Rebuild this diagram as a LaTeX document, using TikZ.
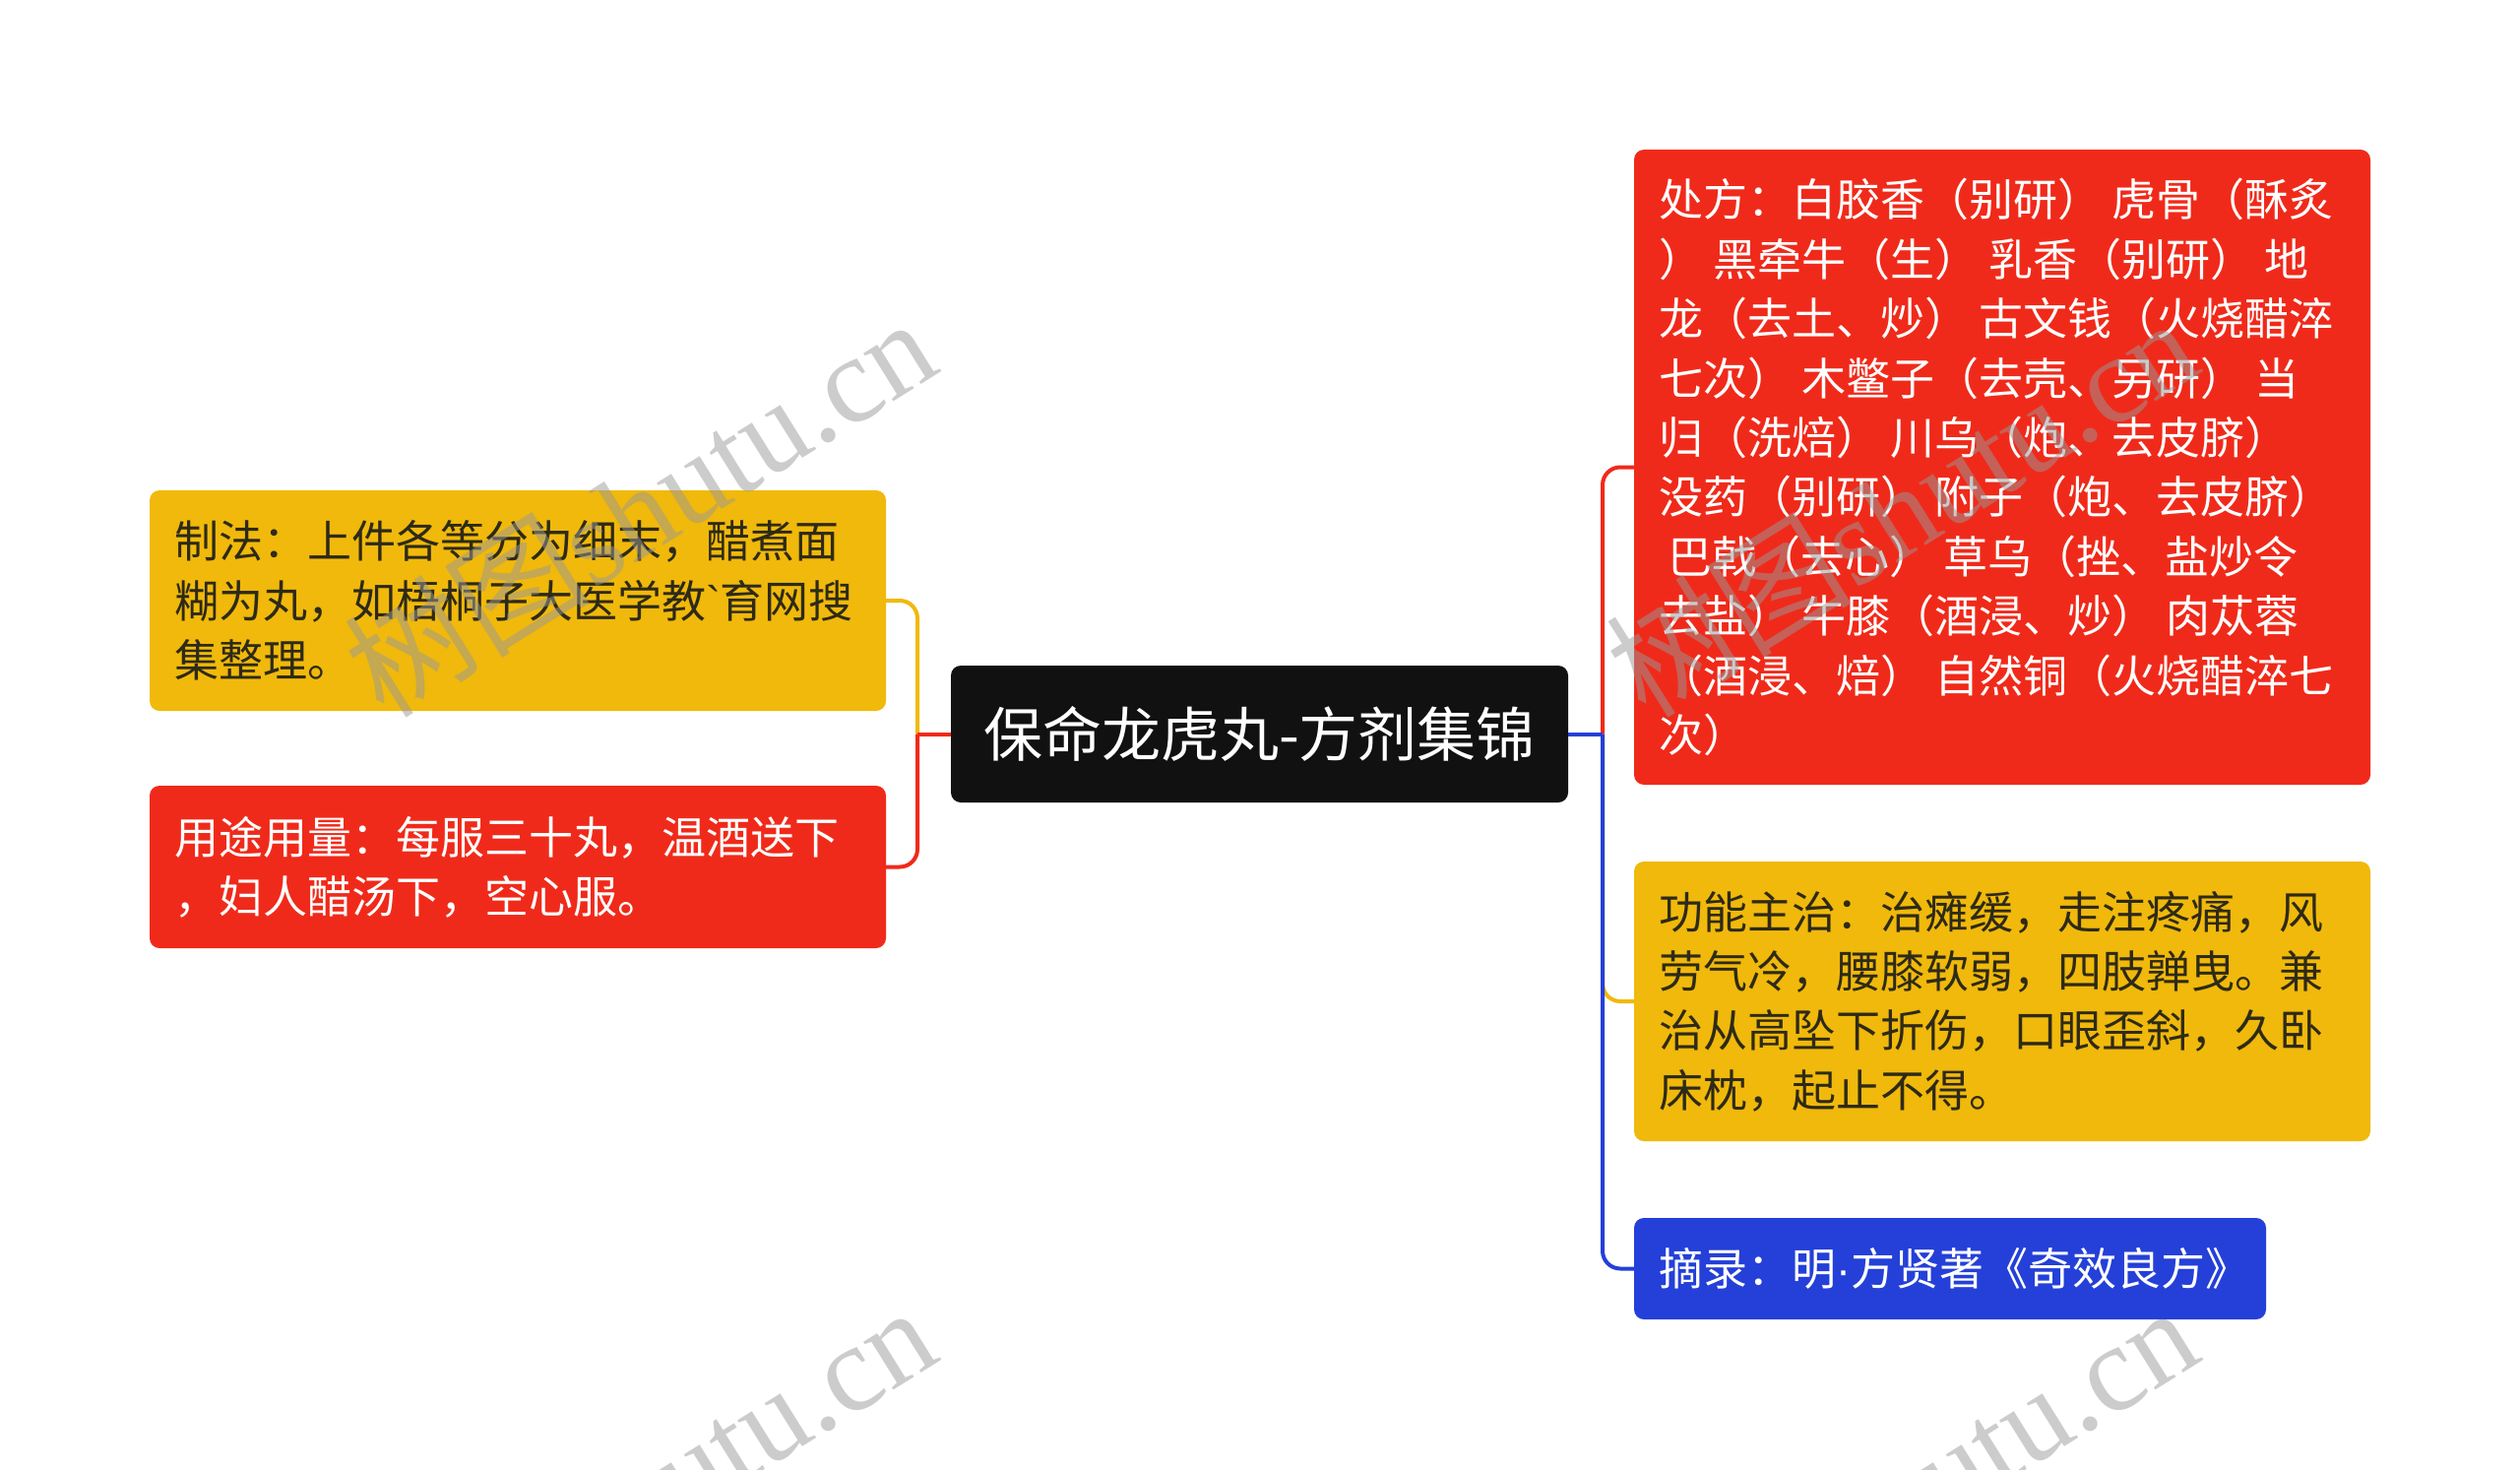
\documentclass[tikz,border=0pt]{standalone}
\usepackage{fontspec}
\newfontfamily\cjk{Noto Sans CJK SC}
\newfontfamily\wmlat{Liberation Serif}
\newfontfamily\lat{Liberation Sans}
\usetikzlibrary{calc}
\definecolor{mred}{HTML}{F02A1A}
\definecolor{myel}{HTML}{F0B90B}
\definecolor{mblue}{HTML}{2440D8}
\definecolor{mblack}{HTML}{111111}
\definecolor{mdark}{HTML}{2E2A17}
\definecolor{wmgray}{HTML}{999999}
\begin{document}
\begin{tikzpicture}[x=1pt,y=-1pt,
  box/.style={rounded corners=10pt, inner sep=0pt, draw=none},
  txt/.style={font=\cjk\fontsize{45}{60.4}\selectfont, align=left, inner sep=0pt, anchor=west},
  conn/.style={line width=4pt, rounded corners=18pt},
  wmark/.style={font=\fontsize{125}{125}\selectfont, text=wmgray, opacity=0.5, rotate=32, inner sep=0pt}
]
\useasboundingbox (0,0) rectangle (2560,1493);

% root
\node[box, fill=mblack, minimum width=627pt, minimum height=139pt, text=white,
      font=\cjk\fontsize{60}{60}\selectfont] (root) at (1279.5,745.5) {保命龙虎丸-方剂集锦};

% right boxes
\node[box, fill=mred, minimum width=748pt, minimum height=645pt] (rr) at (2034,474.5) {};
\node[txt, text=white] (rrt) at ($(rr.west)+(25,0)$) {处方：白胶香（别研） 虎骨（酥炙\\
） 黑牵牛（生） 乳香（别研） 地\\
龙（去土、炒） 古文钱（火烧醋淬\\
七次） 木鳖子（去壳、另研） 当\\
归（洗焙） 川乌（炮、去皮脐）\\
没药（别研） 附子（炮、去皮脐）\\
\hspace*{0.22em}巴戟（去心） 草乌（挫、盐炒令\\
去盐） 牛膝（酒浸、炒） 肉苁蓉\\
（酒浸、焙） 自然铜（火烧醋淬七\\
次）};

\node[box, fill=myel, minimum width=748pt, minimum height=284pt] (ry) at (2034,1017) {};
\node[txt, text=mdark] (ryt) at ($(ry.west)+(25,0)$) {功能主治：治瘫缓，走注疼痛，风\\
劳气冷，腰膝软弱，四肢亸曳。兼\\
治从高坠下折伤，口眼歪斜，久卧\\
床枕，起止不得。};

\node[box, fill=mblue, minimum width=642pt, minimum height=103pt] (rb) at (1981,1288.5) {};
\node[txt, text=white] (rbt) at ($(rb.west)+(25,0)$) {摘录：明{\lat ·}方贤著《奇效良方》};

% left boxes
\node[box, fill=myel, minimum width=748pt, minimum height=224pt] (ly) at (526,610) {};
\node[txt, text=mdark] (lyt) at ($(ly.west)+(25,0)$) {制法：上件各等分为细末，醋煮面\\
糊为丸，如梧桐子大医学教{\lat `}育网搜\\
集整理。};

\node[box, fill=mred, minimum width=748pt, minimum height=165pt] (lr) at (526,880.5) {};
\node[txt, text=white] (lrt) at ($(lr.west)+(25,0)$) {用途用量：每服三十丸，温酒送下\\
，妇人醋汤下，空心服。};

% connectors
\coordinate (jl) at (932,745.5);
\coordinate (jr) at (1628,745.5);
\draw[conn, draw=myel] (jl) |- (ly.east);
\draw[conn, draw=mred] (jl) |- (lr.east);
\draw[conn, draw=mred] (root.west) -- (jl);

\draw[conn, draw=myel] (jr) |- (ry.west);
\draw[conn, draw=mred] (jr) |- (rr.west);
\draw[conn, draw=mblue] (jr) |- (rb.west);
\draw[conn, draw=mblue] (root.east) -- (jr);

% watermarks
\node[wmark] (wm1) at (649,514) {{\cjk 树图}{\wmlat shutu.cn}};
\node[wmark] (wm2) at (1931,514) {{\cjk 树图}{\wmlat shutu.cn}};
\node[wmark] (wm3) at (649,1518) {{\cjk 树图}{\wmlat shutu.cn}};
\node[wmark] (wm4) at (1931,1518) {{\cjk 树图}{\wmlat shutu.cn}};
\end{tikzpicture}
\end{document}
